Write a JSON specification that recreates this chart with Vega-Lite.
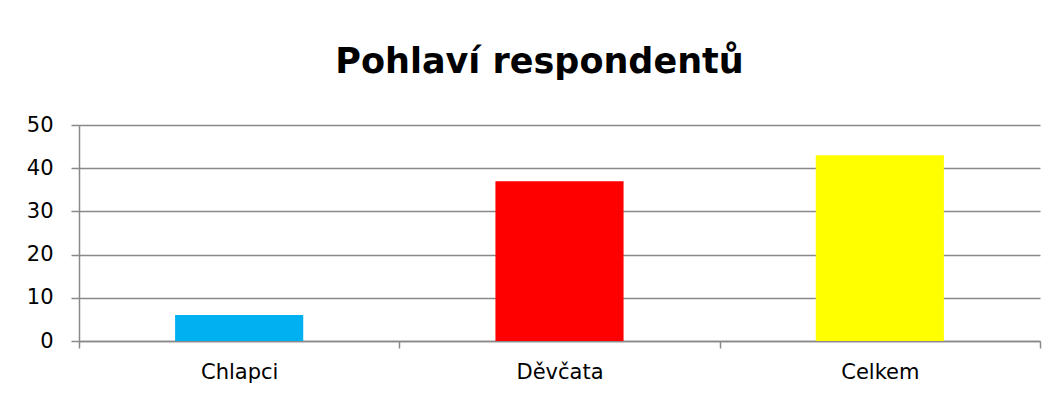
{
  "$schema": "https://vega.github.io/schema/vega-lite/v6.json",
  "autosize": "none",
  "width": 961,
  "height": 216,
  "padding": {"left": 79, "top": 125, "right": 16, "bottom": 59},
  "background": "white",
  "title": {
    "text": "Pohlaví respondentů",
    "font": "DejaVu Sans",
    "fontSize": 35,
    "fontWeight": "bold",
    "color": "#000000",
    "anchor": "middle",
    "dx": -20,
    "offset": 34
  },
  "data": {
    "values": [
      {"kategorie": "Chlapci", "pocet": 6},
      {"kategorie": "Děvčata", "pocet": 37},
      {"kategorie": "Celkem", "pocet": 43}
    ]
  },
  "mark": {"type": "bar", "width": {"band": 0.4}},
  "encoding": {
    "x": {
      "field": "kategorie",
      "type": "nominal",
      "sort": null,
      "scale": {"paddingInner": 0, "paddingOuter": 0},
      "axis": {
        "title": null,
        "labelAngle": 0,
        "labelFont": "DejaVu Sans",
        "labelFontSize": 21,
        "labelColor": "#000000",
        "labelPadding": 13,
        "tickBand": "extent",
        "tickSize": 7,
        "tickColor": "#898989",
        "tickWidth": 1.5,
        "domainColor": "#898989",
        "domainWidth": 1.5,
        "grid": false
      }
    },
    "y": {
      "field": "pocet",
      "type": "quantitative",
      "scale": {"domain": [0, 50], "nice": false},
      "axis": {
        "title": null,
        "values": [0, 10, 20, 30, 40, 50],
        "labelFont": "DejaVu Sans",
        "labelFontSize": 21,
        "labelColor": "#000000",
        "labelPadding": 18,
        "tickSize": 8,
        "tickColor": "#898989",
        "tickWidth": 1.5,
        "domainColor": "#898989",
        "domainWidth": 1.5,
        "grid": true,
        "gridColor": "#898989",
        "gridWidth": 1.5
      }
    },
    "color": {
      "field": "kategorie",
      "type": "nominal",
      "scale": {
        "domain": ["Chlapci", "Děvčata", "Celkem"],
        "range": ["#00B0F0", "#FF0000", "#FFFF00"]
      },
      "legend": null
    }
  },
  "config": {"view": {"stroke": null}}
}
